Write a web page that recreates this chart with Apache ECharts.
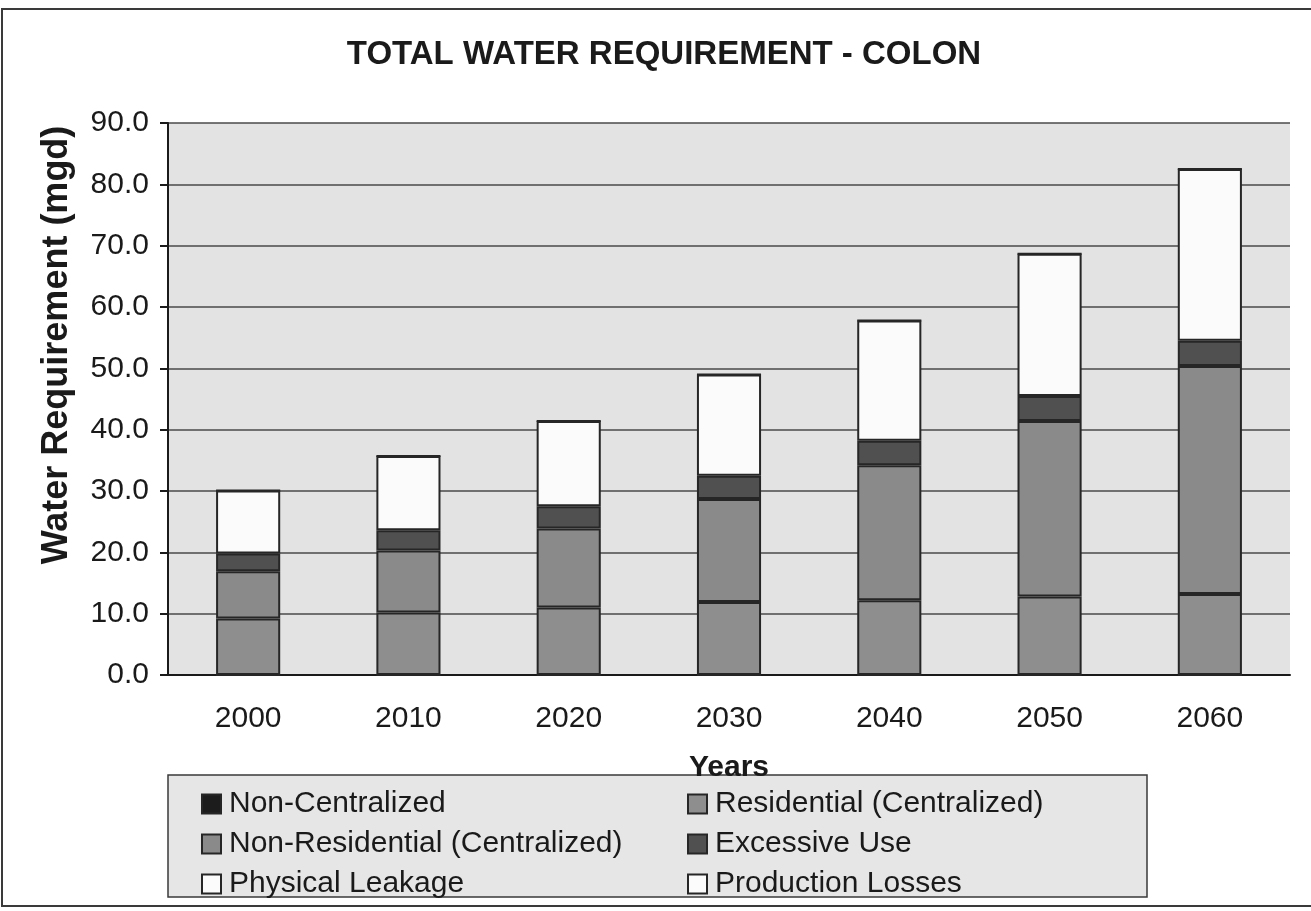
<!DOCTYPE html>
<html>
<head>
<meta charset="utf-8">
<script src="https://cdn.jsdelivr.net/npm/echarts@6/dist/echarts.min.js"></script>
<style>html,body{margin:0;padding:0;background:#fff;}#c{width:1311px;height:911px;}</style>
</head>
<body>
<div id="c"></div>
<script>
const years = ['2000','2010','2020','2030','2040','2050','2060'];
const yTicks = [0,10,20,30,40,50,60,70,80,90];
const nonCentralized = [0,0,0,0,0,0,0];
const residential = [9.2,10.2,11.0,11.9,12.2,12.8,13.2];
const nonResidential = [7.7,10.1,12.9,16.8,22.0,28.6,37.2];
const excessiveUse = [2.9,3.3,3.6,3.8,4.0,4.1,4.1];
const physicalLeakage = [10.3,12.1,13.9,16.5,19.6,23.2,28.0];
const productionLosses = [0,0,0,0,0,0,0];

const chart = echarts.init(document.getElementById('c'), null, {renderer:'canvas'});
const FONT = 'Liberation Sans, Arial, sans-serif';
const TXT = '#1a1a1a';
const border = {borderColor:'#262626', borderWidth:2};
function s(name, data, color){
  return {name, type:'bar', stack:'total', data, barWidth:'40%',
    itemStyle: Object.assign({color}, border)};
}
const legendText = {fontFamily:FONT, fontSize:30, color:TXT, lineHeight:30, padding:[0,0,0,3]};
chart.setOption({
  backgroundColor:'#ffffff',
  animation:false,
  title:{text:'TOTAL WATER REQUIREMENT - COLON', left:659, top:33, textAlign:'center',
    textStyle:{fontFamily:FONT, fontSize:33, fontWeight:'bold', color:TXT}},
  grid:{left:168, right:21, top:123, bottom:236, show:true, backgroundColor:'#e3e3e3', borderWidth:0},
  legend:[
    {data:['Non-Centralized','Non-Residential (Centralized)','Physical Leakage'],
     orient:'vertical', left:196, top:784, itemWidth:19, itemHeight:19, itemGap:10,
     icon:'rect', textStyle:legendText},
    {data:['Residential (Centralized)','Excessive Use','Production Losses'],
     orient:'vertical', left:682, top:784, itemWidth:19, itemHeight:19, itemGap:10,
     icon:'rect', textStyle:legendText}
  ],
  xAxis:{type:'category', data:years,
    name:'Years', nameLocation:'middle', nameGap:78,
    nameTextStyle:{fontFamily:FONT, fontSize:30, fontWeight:'bold', color:TXT},
    axisLine:{lineStyle:{color:'#1a1a1a', width:2}},
    axisTick:{length:9, lineStyle:{color:'#1a1a1a', width:2}},
    axisLabel:{fontFamily:FONT, fontSize:30, color:TXT, margin:29}},
  yAxis:{type:'value', min:yTicks[0], max:yTicks[yTicks.length-1], interval:10,
    axisLine:{show:true, lineStyle:{color:'#1a1a1a', width:2}},
    axisTick:{show:true, length:8, lineStyle:{color:'#1a1a1a', width:2}},
    axisLabel:{fontFamily:FONT, fontSize:30, color:TXT, margin:19, formatter:v=>v.toFixed(1)},
    splitLine:{lineStyle:{color:'#4a4a4a', width:1.5}}},
  graphic:[
    {type:'rect', z:-10, shape:{x:2, y:9, width:1330, height:897}, style:{fill:'none', stroke:'#3a3a3a', lineWidth:2}},
    {type:'rect', z:-10, shape:{x:168, y:775, width:979, height:122}, style:{fill:'#e6e6e6', stroke:'#3a3a3a', lineWidth:1.5}},
    {type:'text', x:57, y:345, rotation:Math.PI/2,
     style:{text:'Water Requirement (mgd)', fontFamily:FONT, fontSize:36, fontWeight:'bold', fill:TXT, align:'center', verticalAlign:'middle'}}
  ],
  series:[
    s('Non-Centralized', nonCentralized, '#1c1c1c'),
    s('Residential (Centralized)', residential, '#8e8e8e'),
    s('Non-Residential (Centralized)', nonResidential, '#8a8a8a'),
    s('Excessive Use', excessiveUse, '#505050'),
    s('Physical Leakage', physicalLeakage, '#fbfbfb'),
    s('Production Losses', productionLosses, '#fbfbfb')
  ]
});
</script>
</body>
</html>
